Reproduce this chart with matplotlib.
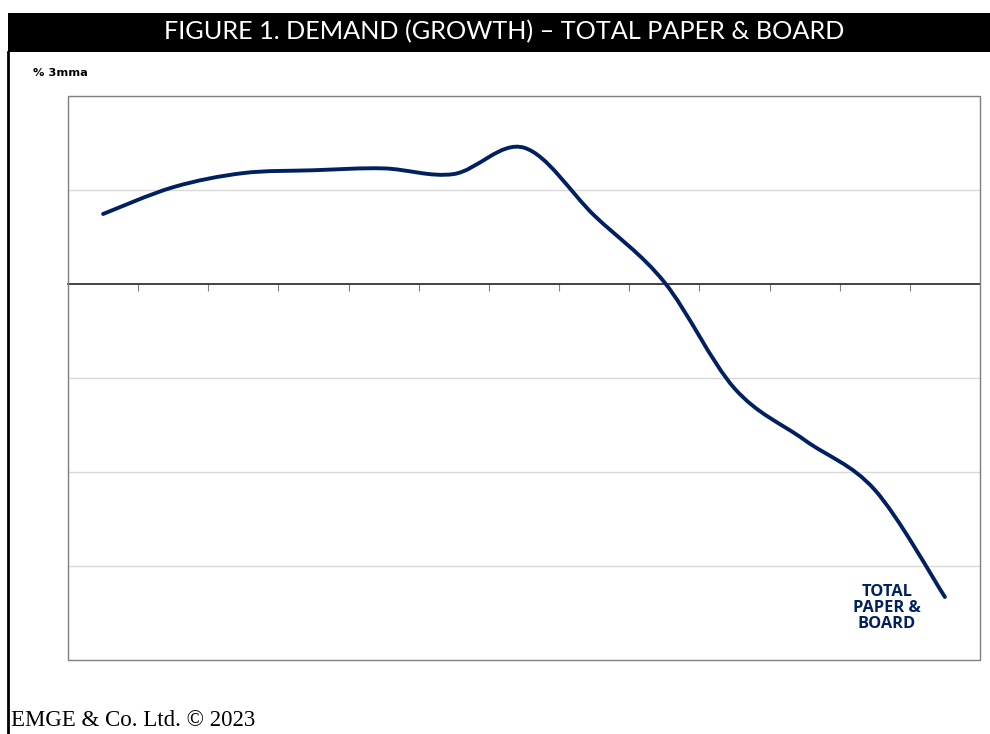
import matplotlib.pyplot as plt
import numpy as np
from matplotlib.path import Path
from matplotlib.patches import PathPatch, Rectangle

# Daten (aus dem Bild geschaetzt, % 3mma)
periods = list(range(13))
growth = [0.745, 1.03, 1.18, 1.21, 1.23, 1.17, 1.45, 0.73, 0.02, -1.11, -1.66, -2.19, -3.33]

title = "FIGURE 1. DEMAND (GROWTH) \u2013 TOTAL PAPER & BOARD"
unit_label = "% 3mma"
series_label = "TOTAL\nPAPER &\nBOARD"
footer = "EMGE & Co. Ltd. \u00a9 2023"

NAVY = "#002060"

fig = plt.figure(figsize=(9.9, 7.34), dpi=100)
W, H = 990, 734

# Titelbalken
fig.patches.append(Rectangle((8 / W, 1 - 52 / H), 1 - 8 / W, 39 / H,
                             transform=fig.transFigure, facecolor="black",
                             edgecolor="none"))
fig.text(504 / W, 1 - 32 / H, title, color="white", fontsize=18.2,
         family="Lato", ha="center", va="center")
# linker Rand
fig.add_artist(plt.Line2D([8 / W, 8 / W], [0, 1 - 52 / H], color="black",
                          lw=2, transform=fig.transFigure))

fig.text(33 / W, 1 - 73 / H, unit_label, fontsize=8.2, fontweight="bold",
         family="DejaVu Sans", ha="left", va="center")
fig.text(11 / W, 1 - 721 / H, footer, fontsize=16.5, family="Liberation Serif",
         ha="left", va="center")

ax = fig.add_axes([68 / W, 74 / H, 912 / W, 564 / H])
ax.set_xlim(-0.5, 12.5)
ax.set_ylim(-4, 2)

# Achsen / Raster
for s in ["top", "left", "right"]:
    ax.spines[s].set_visible(False)
ax.spines["bottom"].set_position(("data", 0))
ax.spines["bottom"].set_color("#222222")
ax.spines["bottom"].set_linewidth(1.2)
ax.add_patch(Rectangle((0, 0), 1, 1, transform=ax.transAxes, fill=False,
                       edgecolor="#7f7f7f", lw=1, zorder=3, clip_on=False))
ax.set_xticks(np.arange(0.5, 12, 1))
ax.tick_params(axis="x", direction="out", length=5, color="#808080",
               labelbottom=False)
ax.set_yticks([-3, -2, -1, 1])
ax.tick_params(axis="y", length=0, labelleft=False)
ax.yaxis.grid(True, color="#d9d9d9", lw=1)
ax.set_axisbelow(True)

# geglaettete Linie (Bezier wie Excel)
pts = np.column_stack([periods, growth]).astype(float)
verts = [pts[0]]
codes = [Path.MOVETO]
n = len(pts)
for i in range(n - 1):
    p0 = pts[max(i - 1, 0)]
    p1 = pts[i]
    p2 = pts[i + 1]
    p3 = pts[min(i + 2, n - 1)]
    c1 = p1 + (p2 - p0) / 6
    c2 = p2 - (p3 - p1) / 6
    verts += [c1, c2, p2]
    codes += [Path.CURVE4] * 3
ax.add_patch(PathPatch(Path(verts, codes), fill=False, edgecolor=NAVY, lw=2.8,
                       capstyle="round", joinstyle="round", zorder=4))

ax.text(11.17, -3.45, series_label, color=NAVY, fontsize=11.8, fontweight="bold",
        family="Open Sans", ha="center", va="center", linespacing=1.0)

fig.savefig("out.png", dpi=100)
